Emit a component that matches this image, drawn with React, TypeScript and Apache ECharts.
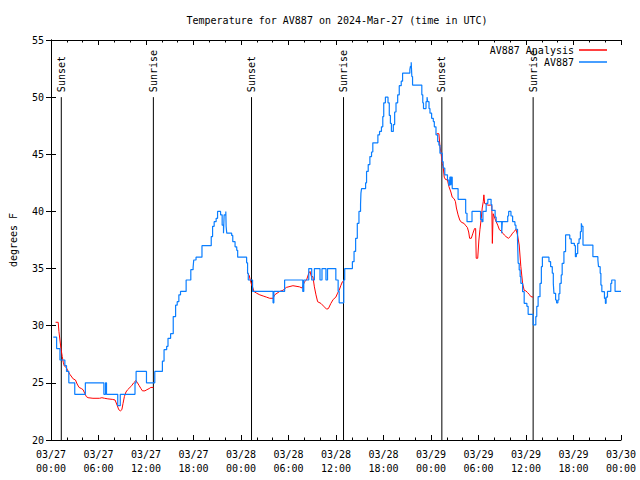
import React, { useEffect, useRef } from "react";
import * as echarts from "echarts";

// x axis in hours since 2024-03-27 00:00 UTC
const xTickLabels = [
  "03/27\n00:00", "03/27\n06:00", "03/27\n12:00", "03/27\n18:00",
  "03/28\n00:00", "03/28\n06:00", "03/28\n12:00", "03/28\n18:00",
  "03/29\n00:00", "03/29\n06:00", "03/29\n12:00", "03/29\n18:00",
  "03/30\n00:00",
];

const sunTimes = [1.3, 12.93, 25.33, 36.95, 49.37, 60.9];
const sunLabels = ["Sunset", "Sunrise", "Sunset", "Sunrise", "Sunset", "Sunrise"];

// AV887 station observations [hour, degF] (value holds from hour until next point)
const stationObs: [number, number][] = [
  [0.29, 29], [0.71, 28], [1.13, 27], [1.75, 26.5], [1.96, 26], [2.25, 25], [3.0, 24],
  [4.34, 25], [6.68, 24], [6.89, 25], [7.01, 24], [8.43, 23], [8.75, 24], [10.61, 25],
  [10.75, 26], [12.06, 25], [13.11, 26], [14.07, 26.9], [14.28, 27.9], [14.61, 28.2],
  [14.78, 28.9], [15.11, 29.3], [15.44, 30.8], [15.74, 31.8], [15.94, 32.1], [16.15, 32.7],
  [16.36, 33.0], [17.07, 34.0], [17.66, 34.9], [17.95, 35.1], [18.03, 35.75], [18.32, 36.0],
  [19.07, 37.0], [20.24, 37.8], [20.41, 38.7], [20.61, 39.1], [20.86, 39.4], [21.04, 40.0],
  [21.42, 39.7], [21.62, 38.8], [21.79, 38.1], [21.87, 39.7], [22.08, 40.0], [22.12, 38.7],
  [22.2, 38.1], [22.82, 37.9], [22.96, 37.35], [23.25, 36.9], [23.46, 36.6], [23.58, 36.0],
  [24.71, 35.5], [24.83, 34.6], [24.92, 34.0], [25.46, 33.0], [28.05, 32.0], [28.15, 33.0],
  [29.51, 34.0], [31.8, 33.0], [31.93, 34.0], [32.56, 35.0], [32.93, 34.0], [33.27, 35.0],
  [33.98, 34.0], [34.23, 35.0], [34.73, 34.0], [34.93, 35.0], [35.98, 34.0], [36.27, 33.0],
  [36.4, 32.0], [36.98, 34.0], [37.1, 35.0], [38.07, 35.6], [38.28, 36.5], [38.48, 37.65],
  [38.69, 38.96], [38.9, 40.0], [39.1, 40.6], [39.15, 41.6], [39.23, 42.0], [39.74, 42.5],
  [39.86, 43.5], [40.07, 44.1], [40.28, 44.8], [40.49, 45.2], [40.65, 46.0], [41.29, 46.7],
  [41.5, 47.0], [41.74, 47.4], [41.91, 48.3], [42.03, 49.5], [42.24, 50.0], [42.57, 49.5],
  [42.73, 48.4], [42.87, 47.7], [43.0, 47.0], [43.24, 47.6], [43.41, 48.7], [43.58, 49.5],
  [43.79, 50.2], [43.99, 51.0], [44.24, 51.4], [44.41, 52.1], [45.33, 52.4], [45.4, 52.7],
  [45.5, 53.05], [45.58, 51.8], [45.67, 51.06], [46.84, 50.2], [46.96, 49.5], [47.05, 49.0],
  [47.37, 49.6], [47.5, 50.0], [47.58, 49.6], [47.75, 49.0], [47.87, 48.6], [48.08, 48.15],
  [48.29, 47.86], [48.42, 47.4], [48.63, 46.7], [48.84, 46.1], [49.0, 45.8], [49.13, 45.1],
  [49.42, 44.35], [49.54, 43.8], [49.74, 43.2], [50.08, 42.75], [50.25, 42.3], [50.38, 43.0],
  [50.51, 42.3], [50.59, 43.0], [50.68, 42.0], [51.42, 41.06], [52.38, 39.84], [52.55, 39.1],
  [53.18, 40.0], [54.26, 39.3], [54.43, 39.1], [54.56, 40.0], [54.97, 40.7], [55.18, 41.06],
  [55.59, 40.6], [55.69, 40.1], [56.1, 39.5], [56.23, 39.1], [56.93, 38.1], [57.01, 39.1],
  [57.69, 39.6], [57.81, 40.0], [58.1, 39.6], [58.31, 39.1], [58.6, 38.8], [58.73, 38.44],
  [58.93, 37.5], [59.01, 35.46], [59.14, 34.88], [59.26, 34.29], [59.35, 33.71], [59.57, 32.98],
  [59.77, 31.96], [60.11, 31.7], [60.27, 31.0], [60.91, 30.07], [61.24, 30.8], [61.36, 31.7],
  [61.53, 32.54], [61.77, 33.7], [61.94, 35.17], [62.07, 36.0], [62.9, 35.6], [63.11, 35.17],
  [63.32, 34.6], [63.45, 33.7], [63.53, 32.83], [63.74, 32.25], [63.86, 32.0], [64.03, 32.25],
  [64.15, 32.8], [64.28, 33.7], [64.45, 34.44], [64.57, 35.46], [64.79, 36.48], [65.0, 37.94],
  [65.53, 37.6], [65.71, 37.21], [66.11, 37.0], [66.24, 36.04], [66.36, 36.3], [66.53, 37.2],
  [66.7, 37.6], [66.87, 38.23], [66.99, 38.96], [67.07, 38.7], [67.2, 37.06], [68.45, 36.04],
  [69.08, 35.75], [69.16, 35.17], [69.37, 34.58], [69.46, 33.56], [69.58, 32.98], [69.91, 32.4],
  [70.03, 31.96], [70.12, 32.5], [70.29, 33.0], [70.71, 33.7], [70.83, 34.0], [71.25, 33.0],
  [72, 33.0],
];

// AV887 Analysis, one list per night
const analysisNight1: [number, number][] = [
  [0.58, 30.3], [0.91, 30.3], [1.0, 29.5], [1.13, 28.75], [1.26, 28.0], [1.42, 27.3],
  [1.55, 26.8], [1.67, 26.5], [1.96, 26.3], [2.17, 26.0], [2.38, 25.75], [2.8, 25.35],
  [3.09, 25.25], [3.3, 24.9], [3.55, 24.6], [3.84, 24.5], [4.05, 24.4], [4.25, 24.1],
  [4.46, 23.8], [4.68, 23.7], [5.3, 23.65], [6.13, 23.65], [6.43, 23.7], [6.76, 23.65],
  [7.18, 23.6], [7.8, 23.55], [8.09, 23.5], [8.35, 23.05], [8.56, 22.65], [8.77, 22.55],
  [8.95, 22.65], [9.1, 23.2], [9.27, 23.8], [9.47, 24.2], [9.68, 24.4], [10.19, 24.75],
  [10.44, 25.0], [10.73, 25.2], [10.93, 25.0], [11.14, 24.75], [11.36, 24.5], [11.55, 24.3],
  [11.86, 24.3], [12.11, 24.4], [12.4, 24.5], [12.61, 24.6], [12.94, 24.6],
];
const analysisNight2: [number, number][] = [
  [24.83, 34.6], [25.04, 34.4], [25.17, 34.0], [25.33, 33.6], [25.46, 33.4], [25.63, 33.0],
  [25.96, 32.85], [26.38, 32.7], [26.8, 32.6], [27.22, 32.5], [27.63, 32.4], [28.05, 32.4],
  [28.25, 32.7], [28.89, 33.0], [29.3, 33.1], [29.72, 33.35], [30.56, 33.5], [31.39, 33.4],
  [31.72, 33.3], [32.02, 33.85], [32.28, 34.0], [32.56, 34.6], [32.72, 34.75], [32.89, 34.3],
  [33.08, 34.3], [33.27, 33.4], [33.47, 32.7], [33.68, 32.1], [34.1, 31.95], [34.52, 31.65],
  [34.81, 31.45], [35.04, 31.5], [35.35, 31.95], [35.65, 32.3], [35.98, 32.5], [36.2, 32.85],
  [36.4, 33.1], [36.6, 33.5], [36.81, 33.85], [36.98, 33.85],
];
const analysisNight3: [number, number][] = [
  [48.71, 46.8], [49.0, 46.8], [49.13, 45.7], [49.27, 45.1], [49.42, 44.2], [49.54, 43.9],
  [49.67, 43.0], [49.83, 42.8], [50.08, 42.75], [50.25, 42.2], [50.51, 41.7], [50.68, 41.25],
  [50.93, 41.1], [51.09, 40.85], [51.21, 40.3], [51.42, 39.7], [51.63, 39.25], [51.84, 39.05],
  [52.18, 38.95], [52.34, 38.8], [52.59, 38.6], [52.76, 38.2], [52.88, 37.65], [53.09, 37.65],
  [53.3, 38.1], [53.5, 38.5], [53.64, 38.5], [53.71, 35.9], [53.9, 35.9], [54.05, 37.5],
  [54.18, 38.4], [54.35, 39.4], [54.47, 40.3], [54.6, 40.85], [54.68, 41.45], [54.77, 40.7],
  [54.97, 40.65], [55.18, 40.55], [55.51, 40.55], [55.68, 40.5], [55.75, 37.2], [55.85, 39.8],
  [56.23, 39.1], [56.43, 38.8], [56.64, 38.4], [56.85, 38.3], [57.06, 38.1], [57.26, 37.94],
  [57.47, 37.8], [57.77, 37.65], [58.02, 37.8], [58.31, 38.1], [58.52, 38.25], [58.73, 38.44],
  [58.93, 37.94], [59.14, 37.06], [59.35, 35.17], [59.57, 33.71], [59.77, 33.1], [59.98, 33.05],
  [60.19, 32.9], [60.4, 32.75], [60.61, 32.55], [60.9, 32.5],
];

const FONT = "DejaVu Sans Mono";

export default function App() {
  const ref = useRef<HTMLDivElement>(null);
  useEffect(() => {
    if (!ref.current) return;
    const chart = echarts.init(ref.current, null, { renderer: "svg" });
    const analysis: any[] = [
      ...analysisNight1, [18, "-"],
      ...analysisNight2, [42, "-"],
      ...analysisNight3,
    ];
    const txt = { fontFamily: FONT, fontSize: 10, color: "#000" };
    const axisCommon = {
      axisLine: { show: true, lineStyle: { color: "#000", width: 1 } },
      axisTick: { show: true, inside: true, length: 5, lineStyle: { color: "#000", width: 1 } },
      splitLine: { show: false },
    };
    const xBase = {
      type: "value",
      min: 0,
      max: 72,
      interval: 6,
      ...axisCommon,
      minorTick: { show: true, splitNumber: 3, length: 2.5, lineStyle: { color: "#000", width: 1 } },
      minorSplitLine: { show: false },
    };
    const yBase = {
      type: "value",
      min: 20,
      max: 55,
      interval: 5,
      ...axisCommon,
    };
    const legendBase = {
      orient: "vertical",
      align: "right",
      right: 28,
      icon: "rect",
      itemWidth: 28,
      itemHeight: 1.5,
      selectedMode: false,
      textStyle: { ...txt, fontSize: 10 },
    };
    chart.setOption({
      animation: false,
      backgroundColor: "#fff",
      title: {
        text: "Temperature for AV887 on 2024-Mar-27 (time in UTC)",
        left: 332,
        top: 10,
        textAlign: "center",
        textStyle: { ...txt, fontWeight: "normal" },
      },
      grid: { left: 46, right: 19, top: 40, bottom: 40 },
      legend: [
        { ...legendBase, top: 40, data: ["AV887 Analysis"] },
        { ...legendBase, top: 52, data: ["AV887"] },
      ],
      xAxis: [
        {
          ...xBase,
          position: "bottom",
          axisLabel: {
            ...txt,
            lineHeight: 14,
            margin: 7,
            showMinLabel: true,
            showMaxLabel: true,
            formatter: (v: number) => xTickLabels[Math.round(v / 6)] ?? "",
          },
        },
        { ...xBase, position: "top", axisLabel: { show: false } },
      ],
      yAxis: [
        {
          ...yBase,
          position: "left",
          axisLabel: { ...txt, margin: 7 },
          name: "degrees F",
          nameLocation: "middle",
          nameRotate: 90,
          nameGap: 33,
          nameTextStyle: { ...txt },
        },
        { ...yBase, position: "right", axisLabel: { show: false } },
      ],
      series: [
        {
          name: "AV887 Analysis",
          type: "line",
          data: analysis,
          symbol: "none",
          showSymbol: false,
          connectNulls: false,
          lineStyle: { color: "#ff0000", width: 1 },
          itemStyle: { color: "#ff0000" },
          z: 3,
        },
        {
          name: "AV887",
          type: "line",
          step: "end",
          data: stationObs,
          symbol: "none",
          showSymbol: false,
          lineStyle: { color: "#0a7eff", width: 1.2 },
          itemStyle: { color: "#0a7eff" },
          z: 4,
        },
        {
          type: "custom",
          silent: true,
          clip: false,
          z: 2,
          data: sunTimes.map((t) => [t, 20]),
          renderItem: (params: any, api: any) => {
            const t = api.value(0);
            const top = api.coord([t, 50]);
            const bottom = api.coord([t, 20]);
            return {
              type: "group",
              children: [
                {
                  type: "line",
                  shape: { x1: top[0], y1: top[1], x2: bottom[0], y2: bottom[1] },
                  style: { stroke: "#000", lineWidth: 1 },
                },
                {
                  type: "text",
                  x: top[0],
                  y: top[1] - 5,
                  rotation: Math.PI / 2,
                  style: {
                    text: sunLabels[params.dataIndex],
                    textAlign: "left",
                    align: "left",
                    textVerticalAlign: "middle",
                    verticalAlign: "middle",
                    fontFamily: FONT,
                    fontSize: 10,
                    fill: "#000",
                  },
                },
              ],
            };
          },
        },
      ],
    });
    return () => chart.dispose();
  }, []);
  return <div ref={ref} style={{ width: 640, height: 480, position: "absolute", left: 0, top: 0 }} />;
}
